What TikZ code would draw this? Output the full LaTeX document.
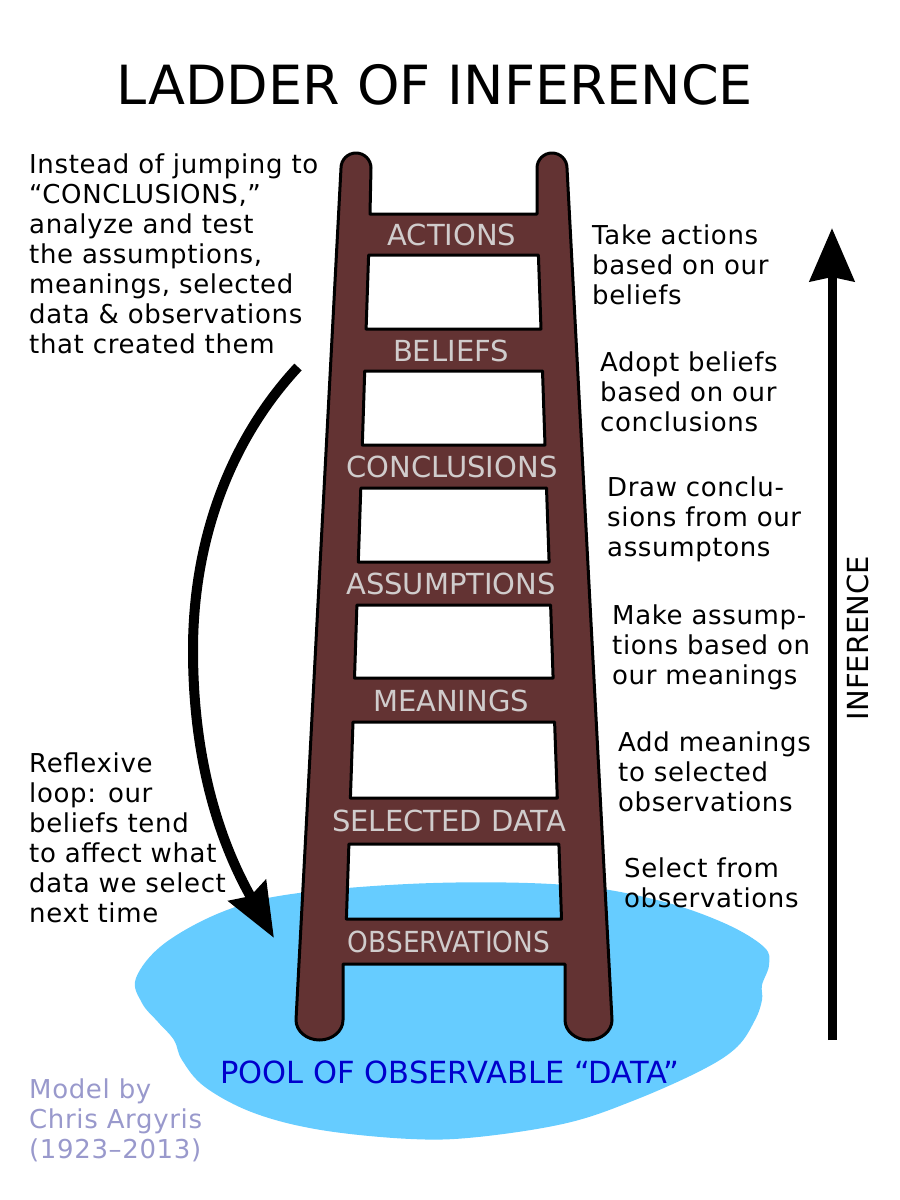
\documentclass[tikz,border=0pt]{standalone}
\usepackage{fontspec}
\setmainfont{DejaVu Sans}
\newfontfamily\notefont[LetterSpace=2.5]{DejaVu Sans}
\usetikzlibrary{arrows.meta}
\definecolor{ladderbrown}{RGB}{99,51,51}
\definecolor{rungtext}{RGB}{208,204,204}
\definecolor{poolblue}{RGB}{102,204,255}
\definecolor{pooltext}{RGB}{0,0,204}
\definecolor{credittext}{RGB}{153,153,204}
\tikzset{%
	ladder/.style   = {draw=black, fill=ladderbrown, line width=3pt, even odd rule, line join=round},
	rung/.style     = {anchor=base, inner sep=0pt, text=rungtext, font=\fontsize{29}{34}\selectfont},
	note/.style     = {anchor=north west, inner sep=0pt, align=left, font=\notefont\fontsize{26}{30}\selectfont},
	bigarrow/.style = {line width=10pt, -{Stealth[length=54pt,width=42pt,inset=6pt]}},
	uparrow/.style  = {line width=9pt, -{Stealth[length=53pt,width=44pt,inset=4pt]}},
}
\begin{document}
\begin{tikzpicture}[x=1pt,y=-1pt]
	\useasboundingbox (0,0) rectangle (900,1200);
	\fill[poolblue] plot[smooth cycle, tension=0.6] coordinates {(136,978) (165,943) (227,910) (299,893) (433,883) (567,885) (657,900) (724,923) (764,947) (769,965) (762,985) (762,1000) (755,1020) (737,1047) (702,1070) (635,1100) (567,1123) (478,1137) (411,1139) (321,1130) (254,1113) (205,1087) (182,1060) (174,1040) (158,1022) (142,1003)};
	\draw[ladder] (341,168) arc[start angle=180,end angle=360,radius=15] -- (370,214) -- (537,214) -- (537,168)
		arc[start angle=180,end angle=360,radius=15] -- (612,1020)
		arc[start angle=0,end angle=180,x radius=23.5,y radius=20] -- (565,964) -- (343,964) -- (343,1020)
		arc[start angle=0,end angle=180,x radius=23.5,y radius=20] -- cycle
		(368.6,255) -- (538.4,255) -- (541.0,329) -- (366.1,329) -- cycle
		(364.7,371) -- (542.5,371) -- (545.0,445) -- (362.3,445) -- cycle
		(360.8,488) -- (546.5,488) -- (549.1,562) -- (358.3,562) -- cycle
		(356.9,605) -- (550.6,605) -- (553.1,678) -- (354.5,678) -- cycle
		(353.0,722) -- (554.6,722) -- (557.3,798) -- (350.4,798) -- cycle
		(348.9,844) -- (558.9,844) -- (561.5,919) -- (346.4,919) -- cycle;
	\node[rung] (actions) at (452,245) {ACTIONS};
	\node[rung] (beliefs) at (451,361) {BELIEFS};
	\node[rung] (conclusions) at (452,477) {CONCLUSIONS};
	\node[rung] (assumptions) at (451,594) {ASSUMPTIONS};
	\node[rung] (meanings) at (451,711) {MEANINGS};
	\node[rung] (selected) at (449,831) {SELECTED DATA};
	\node[rung, xscale=0.91] (observations) at (449,952) {OBSERVATIONS};
	\node[anchor=base, inner sep=0pt, font=\fontsize{54}{60}\selectfont] (title) at (435,104) {LADDER OF INFERENCE};
	\node[anchor=base, inner sep=0pt, text=pooltext, font=\fontsize{30.5}{34}\selectfont] (pool) at (450,1083) {POOL OF OBSERVABLE “DATA”};
	\node[note] (jumpnote) at (29,154) {Instead of jumping to\\“CONCLUSIONS,”\\analyze and test\\the assumptions,\\meanings, selected\\data \& observations\\that created them};
	\node[note] (loopnote) at (29,753) {Reflexive\\loop: our\\beliefs tend\\to affect what\\data we select\\next time};
	\node[note, text=credittext] (credit) at (29,1079) {Model by\\Chris Argyris\\(1923–2013)};
	\node[note] (actnote) at (592,225) {Take actions\\based on our\\beliefs};
	\node[note] (belnote) at (600,352) {Adopt beliefs\\based on our\\conclusions};
	\node[note] (connote) at (607,477) {Draw conclu-\\sions from our\\assumptons};
	\node[note] (assnote) at (612,605) {Make assump-\\tions based on\\our meanings};
	\node[note] (meannote) at (618,732) {Add meanings\\to selected\\observations};
	\node[note] (selnote) at (624,858) {Select from\\observations};
	\coordinate (loopstart) at (298,367);
	\coordinate (loopend) at (274,938);
	\draw[bigarrow] (loopstart) .. controls (230,440) and (193,540) .. (193,650) .. controls (193,780) and (230,860) .. (loopend);
	\coordinate (infbottom) at (832,1040);
	\coordinate (inftop) at (832,228);
	\draw[uparrow] (infbottom) -- (inftop);
	\node[rotate=90, inner sep=0pt, font=\fontsize{29}{34}\selectfont] (inference) at (858,638) {INFERENCE};
\end{tikzpicture}
\end{document}
